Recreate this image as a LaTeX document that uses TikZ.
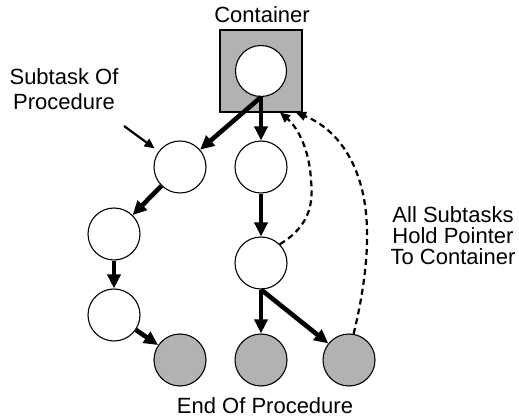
\documentclass[tikz,border=0pt]{standalone}
\usepackage{fontspec}
\setmainfont{Liberation Sans}
\usetikzlibrary{arrows.meta}
\begin{document}
\begin{tikzpicture}[x=1pt,y=-1pt,
  task/.style={circle,draw,line width=1.1pt,fill=white,minimum size=52pt,inner sep=0pt},
  endtask/.style={task,fill=black!30},
  holder/.style={rectangle,draw,line width=1.1pt,fill=black!30,minimum width=82pt,minimum height=82pt,inner sep=0pt},
  flow/.style={line width=4.6pt,-{Triangle[length=14pt,width=13pt]}},
  pointer/.style={line width=2.2pt,-{Triangle[length=10pt,width=9pt]}},
  backref/.style={line width=2.2pt,dash pattern=on 6pt off 4pt,-{Triangle[length=10pt,width=9pt]}},
  lbl/.style={font=\fontsize{22}{25}\selectfont,inner sep=0pt,align=center}]
\useasboundingbox (0,0) rectangle (519,419);

% container with its root task
\node[holder] (ct) at (261,71) {};
\node[task,minimum size=51pt] (cc) at (261,71) {};
\node[lbl,anchor=base] (ctl) at (262,23) {Container};

% subtasks
\node[task] (l1) at (180,167) {};
\node[task] (l2) at (114,234) {};
\node[task] (l3) at (114,315) {};
\node[task] (m1) at (261,167) {};
\node[task] (m2) at (261,263) {};

% end-of-procedure tasks
\node[endtask] (g1) at (180,360) {};
\node[endtask] (g2) at (261,360) {};
\node[endtask] (g3) at (349,360) {};

% labels
\node[lbl,anchor=north] (sub) at (64,68) {Subtask Of\\Procedure};
\node[lbl,anchor=north,font=\fontsize{22}{21}\selectfont] (all) at (453,206) {All Subtasks\\Hold Pointer\\To Container};
\node[lbl,anchor=base] (eop) at (265,413) {End Of Procedure};

% control flow
\draw[flow] (cc.south) -- (l1);
\draw[flow] (cc.south) -- (m1);
\draw[flow] (l1) -- (l2);
\draw[flow] (l2) -- (l3);
\draw[flow] (l3) -- (g1);
\draw[flow] (m1) -- (m2);
\draw[flow] (m2) -- (g2);
\draw[flow] (m2.south) -- (g3);

% label pointer
\coordinate (sp) at (124,126);
\draw[pointer,shorten >=5pt] (sp) -- (l1);

% back references to the container
\draw[backref] (m2.45) .. controls (312,225) and (313,200) .. (311,180)
  .. controls (309,145) and (295,125) .. ([xshift=19pt]ct.south);
\draw[backref] (g3.80) .. controls (362,300) and (368,260) .. (367,230)
  .. controls (366,170) and (340,130) .. ([xshift=35pt]ct.south);
\end{tikzpicture}
\end{document}
